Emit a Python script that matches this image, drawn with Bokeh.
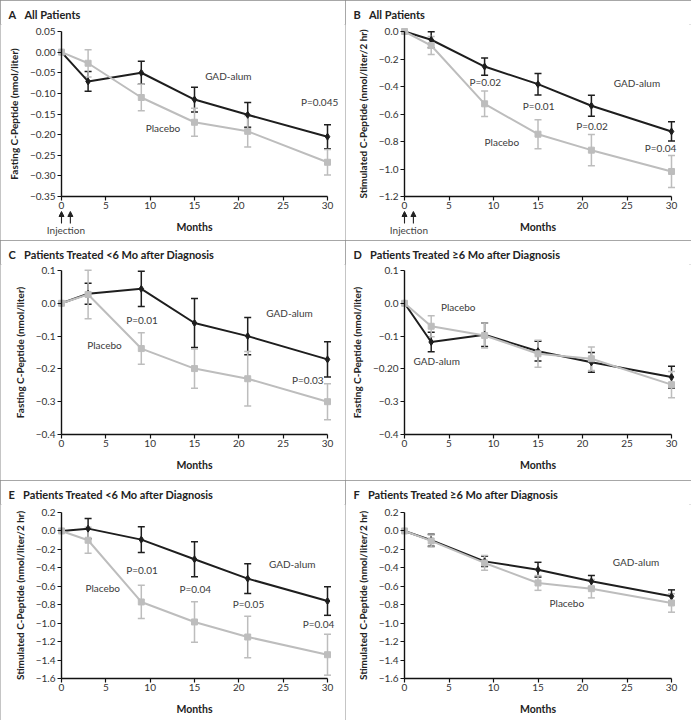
import numpy as np
from bokeh.plotting import figure
from bokeh.models import (ColumnDataSource, Whisker, TeeHead, Range1d, FixedTicker,
                          Arrow, NormalHead, LabelSet, LinearAxis)
from bokeh.layouts import gridplot
from bokeh.embed import file_html
from bokeh.resources import INLINE
from bokeh.core.properties import value

FONT = "Lato"
months = [0, 3, 9, 15, 21, 30]
injections = [0, 1]
x_ticks = [0, 5, 10, 15, 20, 25, 30]

# ---------------- Panel A: fasting, all patients ----------------
a_gad = [0, -0.071, -0.050, -0.115, -0.152, -0.205]
a_gad_se = [0, 0.024, 0.028, 0.030, 0.030, 0.029]
a_pla = [0, -0.027, -0.110, -0.170, -0.192, -0.267]
a_pla_se = [0, 0.033, 0.032, 0.034, 0.038, 0.031]
a_yticks = [0.05, 0.0, -0.05, -0.10, -0.15, -0.20, -0.25, -0.30, -0.35]
a_ylabels = ["0.05", "0.00", "\u22120.05", "\u22120.10", "\u22120.15", "\u22120.20",
             "\u22120.25", "\u22120.30", "\u22120.35"]
a_notes = ["GAD-alum", "Placebo", "P=0.045"]
a_notes_x = [16.2, 9.5, 27.0]
a_notes_y = [-0.059, -0.184, -0.122]

# ---------------- Panel B: stimulated, all patients ----------------
b_gad = [0, -0.060, -0.255, -0.383, -0.540, -0.727]
b_gad_se = [0, 0.058, 0.063, 0.078, 0.077, 0.070]
b_pla = [0, -0.102, -0.526, -0.747, -0.863, -1.018]
b_pla_se = [0, 0.065, 0.093, 0.105, 0.114, 0.116]
b_yticks = [0.0, -0.2, -0.4, -0.6, -0.8, -1.0, -1.2]
b_ylabels = ["0.0", "\u22120.2", "\u22120.4", "\u22120.6", "\u22120.8", "\u22121.0", "\u22121.2"]
b_notes = ["GAD-alum", "Placebo", "P=0.02", "P=0.01", "P=0.02", "P=0.04"]
b_notes_x = [23.5, 9.0, 7.3, 13.3, 19.3, 27.0]
b_notes_y = [-0.376, -0.807, -0.364, -0.540, -0.684, -0.848]

# ---------------- Panel C: fasting, <6 mo ----------------
c_gad = [0, 0.029, 0.044, -0.060, -0.100, -0.171]
c_gad_se = [0, 0.032, 0.054, 0.075, 0.057, 0.054]
c_pla = [0, 0.027, -0.138, -0.199, -0.230, -0.300]
c_pla_se = [0, 0.074, 0.048, 0.060, 0.083, 0.055]
c_yticks = [0.1, 0.0, -0.1, -0.2, -0.3, -0.4]
c_ylabels = ["0.1", "0.0", "\u22120.1", "\u22120.2", "\u22120.3", "\u22120.4"]
c_notes = ["GAD-alum", "Placebo", "P=0.01", "P=0.03"]
c_notes_x = [23.1, 2.9, 7.3, 26.0]
c_notes_y = [-0.029, -0.128, -0.052, -0.235]

# ---------------- Panel D: fasting, >=6 mo ----------------
d_gad = [0, -0.118, -0.096, -0.146, -0.180, -0.225]
d_gad_se = [0, 0.030, 0.036, 0.030, 0.030, 0.033]
d_pla = [0, -0.070, -0.098, -0.154, -0.169, -0.248]
d_pla_se = [0, 0.032, 0.038, 0.041, 0.036, 0.040]
d_yticks = [0.1, 0.0, -0.1, -0.2, -0.3, -0.4]
d_ylabels = ["0.1", "0.0", "\u22120.1", "\u22120.20", "\u22120.3", "\u22120.4"]
d_notes = ["Placebo", "GAD-alum"]
d_notes_x = [4.1, 1.0]
d_notes_y = [-0.010, -0.176]

# ---------------- Panel E: stimulated, <6 mo ----------------
e_gad = [0, 0.025, -0.094, -0.307, -0.517, -0.760]
e_gad_se = [0, 0.110, 0.140, 0.190, 0.160, 0.155]
e_pla = [0, -0.101, -0.770, -0.987, -1.150, -1.342]
e_pla_se = [0, 0.140, 0.180, 0.220, 0.225, 0.222]
e_yticks = [0.2, 0.0, -0.2, -0.4, -0.6, -0.8, -1.0, -1.2, -1.4, -1.6]
e_ylabels = ["0.2", "0.0", "\u22120.2", "\u22120.4", "\u22120.6", "\u22120.8", "\u22121.0",
             "\u22121.2", "\u22121.4", "\u22121.6"]
e_notes = ["GAD-alum", "Placebo", "P=0.01", "P=0.04", "P=0.05", "P=0.04"]
e_notes_x = [23.4, 2.7, 7.3, 13.3, 19.3, 27.2]
e_notes_y = [-0.362, -0.615, -0.420, -0.633, -0.796, -1.013]

# ---------------- Panel F: stimulated, >=6 mo ----------------
f_gad = [0, -0.101, -0.330, -0.420, -0.546, -0.709]
f_gad_se = [0, 0.065, 0.055, 0.080, 0.063, 0.070]
f_pla = [0, -0.108, -0.347, -0.564, -0.626, -0.781]
f_pla_se = [0, 0.065, 0.080, 0.080, 0.100, 0.100]
f_yticks = e_yticks
f_ylabels = e_ylabels
f_notes = ["GAD-alum", "Placebo"]
f_notes_x = [23.4, 16.3]
f_notes_y = [-0.336, -0.780]

FAST = "Fasting C-Peptide (nmol/liter)"
STIM = "Stimulated C-Peptide (nmol/liter/2 hr)"

panels = [
    ("A", "All Patients", FAST, a_gad, a_gad_se, a_pla, a_pla_se, a_yticks, a_ylabels,
     a_notes, a_notes_x, a_notes_y, True),
    ("B", "All Patients", STIM, b_gad, b_gad_se, b_pla, b_pla_se, b_yticks, b_ylabels,
     b_notes, b_notes_x, b_notes_y, True),
    ("C", "Patients Treated <6 Mo after Diagnosis", FAST, c_gad, c_gad_se, c_pla, c_pla_se,
     c_yticks, c_ylabels, c_notes, c_notes_x, c_notes_y, False),
    ("D", "Patients Treated \u22656 Mo after Diagnosis", FAST, d_gad, d_gad_se, d_pla, d_pla_se,
     d_yticks, d_ylabels, d_notes, d_notes_x, d_notes_y, False),
    ("E", "Patients Treated <6 Mo after Diagnosis", STIM, e_gad, e_gad_se, e_pla, e_pla_se,
     e_yticks, e_ylabels, e_notes, e_notes_x, e_notes_y, False),
    ("F", "Patients Treated \u22656 Mo after Diagnosis", STIM, f_gad, f_gad_se, f_pla, f_pla_se,
     f_yticks, f_ylabels, f_notes, f_notes_x, f_notes_y, False),
]

# ---- layout (pixels inside each panel) ----
BLACK = "#1e1e1e"
GREY = "#bdbdbd"
TXT = "#333333"
BORDER = "#8a8a8a"
H = 240
TOP = 24
COL_W = [345, 346]
COL_X = [(61, 327), (59, 326)]      # pixel of x=0 and x=30
ROW_Y = [(31, 196), (30, 194), (32, 198)]  # pixel of y top tick and y bottom tick


def make_panel(idx, letter, title, ylabel, gad, gad_se, pla, pla_se, yticks, ylabels,
               notes, nx, ny, injection):
    col, row = idx % 2, idx // 2
    w = COL_W[col]
    x0p, x30p = COL_X[col]
    ytp, ybp = ROW_Y[row]
    ymax, ymin = max(yticks), min(yticks)
    kx = 30.0 / (x30p - x0p)
    ky = (ymax - ymin) / (ybp - ytp)
    xr = Range1d(-x0p * kx, (w - x0p) * kx)
    yr = Range1d(ymin - (H - ybp) * ky, ymax + (ytp - TOP) * ky)

    p = figure(width=w, height=H, output_backend="svg", toolbar_location=None,
               x_range=xr, y_range=yr, x_axis_location=None, y_axis_location=None,
               min_border_left=0, min_border_right=0, min_border_top=TOP,
               min_border_bottom=0, outline_line_color=None,
               styles={"outline": f"1px solid {BORDER}", "outline-offset": "-1px"})
    p.title.text = f"{letter}\u2003{title}"
    p.title.text_font = FONT
    p.title.text_font_size = "11px"
    p.title.text_font_style = "bold"
    p.title.text_color = "#222222"
    p.title.align = "left"
    p.title.offset = 8
    p.title.standoff = 7
    p.xgrid.visible = False
    p.ygrid.visible = False

    xax = LinearAxis(fixed_location=ymin, bounds=(0, 30), ticker=FixedTicker(ticks=x_ticks),
                     axis_label="Months")
    yax = LinearAxis(fixed_location=0, bounds=(ymin, ymax), ticker=FixedTicker(ticks=yticks),
                     axis_label=ylabel,
                     major_label_overrides={t: l for t, l in zip(yticks, ylabels)})
    for ax in (xax, yax):
        ax.axis_line_color = "#111111"
        ax.axis_line_width = 1.4
        ax.major_tick_line_color = "#111111"
        ax.major_tick_line_width = 1.2
        ax.major_tick_in = 0
        ax.major_tick_out = 4
        ax.minor_tick_line_color = None
        ax.major_label_text_font = FONT
        ax.major_label_text_font_size = "10px"
        ax.major_label_text_color = TXT
        ax.axis_label_text_font = FONT
        ax.axis_label_text_font_style = "bold"
        ax.axis_label_text_font_size = "10px"
        ax.axis_label_text_color = "#222222"
    xax.axis_label_text_font_size = "10.5px"
    xax.major_label_standoff = 1
    xax.axis_label_standoff = 9
    yax.major_label_standoff = 2
    yax.axis_label_standoff = 7
    p.add_layout(xax, "below")
    p.add_layout(yax, "left")

    series = [(gad, gad_se, BLACK, "diamond", 7), (pla, pla_se, GREY, "square", 6)]
    for vals, se, colr, mk, sz in series:
        m = [x for x, s in zip(months, se) if s > 0]
        v = [y for y, s in zip(vals, se) if s > 0]
        e = [s for s in se if s > 0]
        wsrc = ColumnDataSource(dict(x=m, upper=[a + b for a, b in zip(v, e)],
                                     lower=[a - b for a, b in zip(v, e)]))
        wk = Whisker(base="x", upper="upper", lower="lower", source=wsrc,
                     dimension="height", line_color=colr, line_width=1.5,
                     upper_head=TeeHead(size=7, line_color=colr, line_width=1.5),
                     lower_head=TeeHead(size=7, line_color=colr, line_width=1.5))
        p.add_layout(wk)
    for vals, se, colr, mk, sz in series:
        src = ColumnDataSource(dict(x=months, y=vals))
        p.line("x", "y", source=src, line_color=colr, line_width=2)
        p.scatter("x", "y", source=src, marker=mk, size=sz, fill_color=colr, line_color=colr)

    nsrc = ColumnDataSource(dict(x=nx, y=ny, t=notes))
    p.add_layout(LabelSet(x="x", y="y", text="t", source=nsrc, text_font=value(FONT),
                          text_font_size="10px", text_color="#3a3a3a", text_align="left",
                          text_baseline="middle"))

    if injection:
        for xi in injections:
            p.add_layout(Arrow(x_start=xi, y_start=ymin - 27 * ky, x_end=xi,
                               y_end=ymin - 15 * ky, line_color="#222222", line_width=1.1,
                               end=NormalHead(size=5, fill_color="#222222",
                                              line_color="#222222", line_width=1)))
        isrc = ColumnDataSource(dict(x=[sum(injections) / 2], y=[ymin - 33 * ky],
                                     t=["Injection"]))
        p.add_layout(LabelSet(x="x", y="y", text="t", source=isrc, text_font=value(FONT),
                              text_font_size="10px", text_color="#444444",
                              text_align="center", text_baseline="middle"))
    return p


figs = [make_panel(i, *pan) for i, pan in enumerate(panels)]
grid = gridplot([figs[0:2], figs[2:4], figs[4:6]], toolbar_location=None)
grid.styles = {"outline": f"2px solid {BORDER}", "outline-offset": "-2px"}

open("out.html", "w").write(file_html(grid, INLINE))
